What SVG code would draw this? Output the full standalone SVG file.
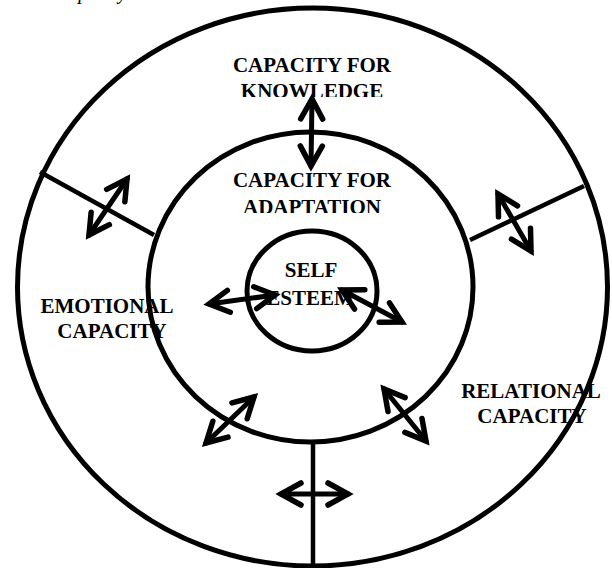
<svg xmlns="http://www.w3.org/2000/svg" width="612" height="568" viewBox="0 0 612 568">
<style>
.lbl{font-family:"Liberation Serif","Times New Roman",serif;font-weight:bold;font-size:21px;fill:#000;text-anchor:middle}
.cap{font-family:"Liberation Serif","Times New Roman",serif;font-style:italic;font-size:20px;fill:#000}
.ring{fill:none;stroke:#000;stroke-width:5}
.div{stroke:#000;stroke-width:4.5;fill:none}
.arr{stroke:#000;stroke-width:5;fill:none;stroke-linecap:round;marker-start:url(#head);marker-end:url(#head)}
</style>
<defs>
<marker id="head" markerUnits="userSpaceOnUse" markerWidth="40" markerHeight="40" viewBox="-30 -20 40 40" refX="0" refY="0" orient="auto-start-reverse">
<path d="M -20,-11 L 0,0 L -20,11" fill="none" stroke="#000" stroke-width="5.5" stroke-linecap="round" stroke-linejoin="miter"/>
</marker>
<clipPath id="clipK"><rect x="0" y="0" width="612" height="97"/></clipPath>
<clipPath id="clipA"><rect x="0" y="0" width="612" height="213"/></clipPath>
</defs>
<text class="cap" x="55" y="-0.6">Capacity</text>
<g id="node-knowledge">
<text class="lbl" x="312" y="72">CAPACITY FOR</text>
<text class="lbl" x="312" y="98" clip-path="url(#clipK)">KNOWLEDGE</text>
</g>
<g id="node-adaptation">
<text class="lbl" x="312" y="187">CAPACITY FOR</text>
<text class="lbl" x="312" y="214" clip-path="url(#clipA)">ADAPTATION</text>
</g>
<g id="node-emotional">
<text class="lbl" x="107" y="313">EMOTIONAL</text>
<text class="lbl" x="112" y="338">CAPACITY</text>
</g>
<g id="node-relational">
<text class="lbl" x="531" y="398">RELATIONAL</text>
<text class="lbl" x="532" y="423">CAPACITY</text>
</g>
<g id="node-self">
<text class="lbl" x="311" y="277">SELF</text>
<text class="lbl" x="310" y="305">ESTEEM</text>
</g>
<g id="rings">
<ellipse class="ring" cx="312.5" cy="287" rx="295" ry="279"/>
<ellipse class="ring" cx="310.5" cy="287" rx="162.5" ry="155"/>
<ellipse class="ring" cx="312" cy="291" rx="65" ry="60"/>
</g>
<g id="connectors">
<line class="div" x1="40" y1="172" x2="154" y2="235"/>
<line class="div" x1="470" y1="240" x2="584" y2="186"/>
<line class="div" x1="313" y1="442" x2="313" y2="566"/>
<line class="arr" x1="312" y1="99" x2="311" y2="166"/>
<line class="arr" x1="127" y1="179" x2="89" y2="235"/>
<line class="arr" x1="498" y1="194" x2="531" y2="251"/>
<line class="arr" x1="209" y1="304" x2="275" y2="295"/>
<line class="arr" x1="342" y1="290" x2="402" y2="322"/>
<line class="arr" x1="254" y1="397" x2="206" y2="443"/>
<line class="arr" x1="384" y1="389" x2="426" y2="441"/>
<line class="arr" x1="281" y1="494" x2="348" y2="494"/>
</g>
</svg>
